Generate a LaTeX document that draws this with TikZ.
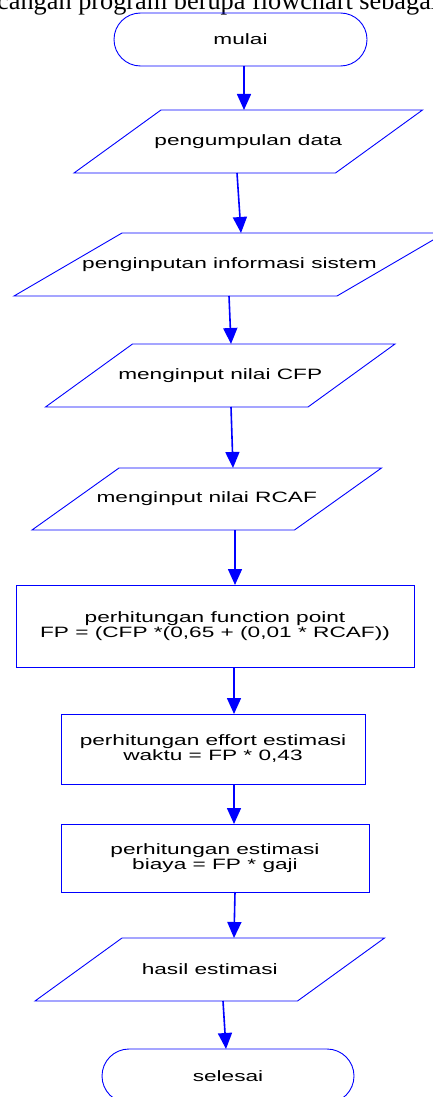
\documentclass[tikz,border=0pt]{standalone}
\usepackage{fontspec}
\setmainfont{Liberation Serif}
\newfontfamily\dfont[FakeStretch=1.51]{Liberation Sans}
\usetikzlibrary{shapes.misc,arrows.meta}
\newcommand\parashape[2]{\draw[shapeline] ([xshift=#2*0.5]#1.north west) -- ([xshift=#2*0.5]#1.north east) -- ([xshift=-#2*0.5]#1.south east) -- ([xshift=-#2*0.5]#1.south west) -- cycle;}
\begin{document}
\begin{tikzpicture}[x=1pt,y=-1pt,
  shapeline/.style={draw=blue,line width=0.9pt},
  dtext/.style={font=\dfont\fontsize{15}{15}\selectfont,align=center,inner sep=0pt,outer sep=0pt},
  term/.style={rounded rectangle,shapeline,dtext},
  procbox/.style={rectangle,shapeline,dtext},
  iotext/.style={rectangle,dtext},
  arr/.style={draw=blue,line width=1.6pt,-{Triangle[length=16pt,width=14pt,fill=blue]}},
]
\useasboundingbox (0,0) rectangle (433,1097);
\clip (0,0) rectangle (433,1097);

\node[anchor=base west,inner sep=0pt,font=\fontsize{26.3}{26.3}\selectfont] (caption) at (-3,10) {cangan program berupa flowchart sebagai};

\node[term,minimum width=253pt,minimum height=53pt] (start) at (240.5,39.5) {mulai};

\node[iotext,minimum width=261.5pt,minimum height=63pt] (p1) at (248.25,141.5) {pengumpulan data};
\parashape{p1}{87}
\node[iotext,minimum width=323pt,minimum height=63pt] (p2) at (229.5,264.5) {penginputan informasi sistem};
\parashape{p2}{108}
\node[iotext,minimum width=262.5pt,minimum height=63pt] (p3) at (220.25,375.5) {menginput nilai CFP};
\parashape{p3}{87}
\node[iotext,minimum width=262.5pt,minimum height=62pt] (p4) at (206.75,499) {menginput nilai RCAF};
\parashape{p4}{87}

\node[procbox,minimum width=398pt,minimum height=82pt] (r1) at (215,626) {perhitungan function point\\FP = (CFP *(0,65 + (0,01 * RCAF))};
\node[procbox,minimum width=304pt,minimum height=70pt] (r2) at (213,749) {perhitungan effort estimasi\\waktu = FP * 0,43};
\node[procbox,minimum width=308pt,minimum height=68pt] (r3) at (215,858) {perhitungan estimasi\\biaya = FP * gaji};

\node[iotext,minimum width=262.5pt,minimum height=63pt] (p5) at (209.75,969.5) {hasil estimasi};
\parashape{p5}{87}

\node[term,minimum width=252pt,minimum height=54pt] (end) at (228,1076) {selesai};

\draw[arr] ([xshift=3.5]start.south) -- ([xshift=-4.25]p1.north);
\draw[arr] ([xshift=-11.25]p1.south) -- ([xshift=11.5]p2.north);
\draw[arr] ([xshift=-0.5]p2.south) -- ([xshift=10.75]p3.north);
\draw[arr] ([xshift=10.75]p3.south) -- ([xshift=26.25]p4.north);
\draw[arr] ([xshift=28.25]p4.south) -- ([xshift=20]r1.north);
\draw[arr] ([xshift=19]r1.south) -- ([xshift=21]r2.north);
\draw[arr] ([xshift=21]r2.south) -- ([xshift=19]r3.north);
\draw[arr] ([xshift=20]r3.south) -- ([xshift=24.25]p5.north);
\draw[arr] ([xshift=13.25]p5.south) -- ([xshift=-2]end.north);
\end{tikzpicture}
\end{document}
